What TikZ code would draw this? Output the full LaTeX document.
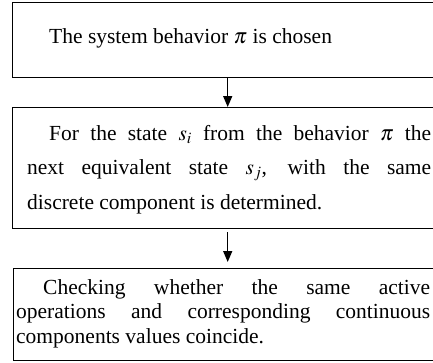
\documentclass[tikz,border=0pt]{standalone}
\usepackage{mathptmx}
\usepackage{fontspec}
\setmainfont{Liberation Serif}
\usetikzlibrary{arrows.meta,positioning}
\tikzset{
  stepbox/.style  = {draw, line width=1.4pt, rectangle, inner sep=0pt, anchor=north west},
  steptext/.style = {anchor=base west, inner sep=0pt, font=\fontsize{21.5}{24.5}\selectfont},
  flow/.style     = {-{Triangle[length=11pt,width=9pt]}, line width=1.4pt},
}

\begin{document}
\begin{tikzpicture}[x=1pt,y=-1pt]
  \useasboundingbox (0,0) rectangle (433,362);
  \clip (0,0) rectangle (433,362);
  % boxes
  \node[stepbox, minimum width=430pt, minimum height=75pt] (b1) at (12,2) {};
  \node[stepbox, minimum width=430pt, minimum height=121pt] (b2) at (12,107) {};
  \node[stepbox, minimum width=428pt, minimum height=92pt] (b3) at (13,268) {};
  % texts
  \node[steptext] (t1) at (49,43) {The system behavior $\pi$ is chosen};
  \node[steptext] (t2) at (27,140) {\parbox[t]{404pt}{\baselineskip=34.5pt
    \hspace*{22pt}For the state $s_i$ from the behavior $\pi$ the\linebreak
    next equivalent state $s_j$, with the same\linebreak
    discrete component is determined.}};
  \node[steptext] (t3) at (16,294) {\parbox[t]{414pt}{\hspace*{27pt}Checking whether the same active\linebreak
    operations and corresponding continuous\linebreak
    components values coincide.}};
  % arrows
  \draw[flow] (b1.south) -- (b2.north);
  \draw[flow, shorten >=6pt, shorten <=3pt] (b2.south) -- (b3.north);
\end{tikzpicture}
\end{document}
